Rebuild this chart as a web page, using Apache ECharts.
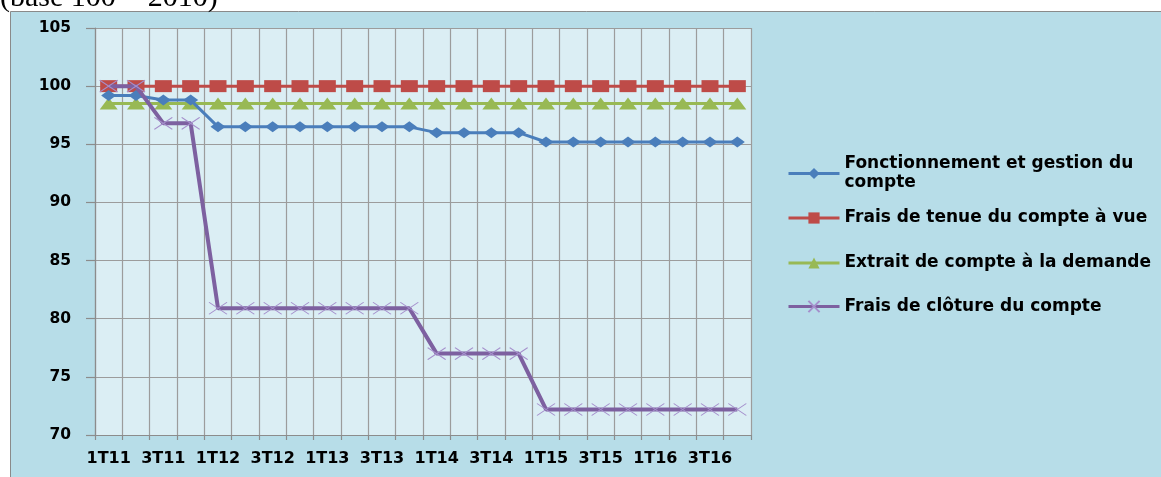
<!DOCTYPE html>
<html><head><meta charset="utf-8">
<script src="https://cdn.jsdelivr.net/npm/echarts@6/dist/echarts.min.js"></script>
<style>html,body{margin:0;padding:0;background:#fff;overflow:hidden}#c{width:1161px;height:477px}</style>
</head><body><div id="c"></div>
<script>
const categories = ['1T11','2T11','3T11','4T11','1T12','2T12','3T12','4T12','1T13','2T13','3T13','4T13','1T14','2T14','3T14','4T14','1T15','2T15','3T15','4T15','1T16','2T16','3T16','4T16'];
const seriesNames = ['Fonctionnement et gestion du compte','Frais de tenue du compte à vue','Extrait de compte à la demande','Frais de clôture du compte'];
const fonctionnement = [99.2,99.2,98.8,98.8,96.5,96.5,96.5,96.5,96.5,96.5,96.5,96.5,96.0,96.0,96.0,96.0,95.2,95.2,95.2,95.2,95.2,95.2,95.2,95.2];
const tenue = [100,100,100,100,100,100,100,100,100,100,100,100,100,100,100,100,100,100,100,100,100,100,100,100];
const extrait = [98.5,98.5,98.5,98.5,98.5,98.5,98.5,98.5,98.5,98.5,98.5,98.5,98.5,98.5,98.5,98.5,98.5,98.5,98.5,98.5,98.5,98.5,98.5,98.5];
const cloture = [100,100,96.8,96.8,80.9,80.9,80.9,80.9,80.9,80.9,80.9,80.9,77.0,77.0,77.0,77.0,72.2,72.2,72.2,72.2,72.2,72.2,72.2,72.2];
const titleText = '(base 100 = 2010)';

const FONT = '"DejaVu Sans", sans-serif';
const legendText = {fontFamily: FONT, fontWeight: 'bold', fontSize: 17, color: '#000', lineHeight: 19};
function legendAt(name, top, extra) {
  return Object.assign({
    data: [name], orient: 'vertical', left: 787, top: top, padding: 0,
    itemWidth: 51, itemHeight: 14, itemGap: 0,
    lineStyle: {width: 3},
    textStyle: Object.assign({}, legendText)
  }, extra || {});
}
const chart = echarts.init(document.getElementById('c'));
chart.setOption({
  animation: false,
  graphic: [
    {type: 'rect', z: -10, shape: {x: 10.5, y: 11.5, width: 1160, height: 470},
     style: {fill: '#b7dde8', stroke: '#8a8a8a', lineWidth: 1}},
    {type: 'text', z: 10, x: 0, y: -17,
     style: {text: titleText, font: '30px "Liberation Serif", serif', fill: '#000', verticalAlign: 'top'}}
  ],
  grid: {left: 95, right: 410, top: 28, bottom: 42, show: true, backgroundColor: '#dbeef4', borderWidth: 0},
  legend: [
    legendAt(seriesNames[0], 145, {formatter: () => 'Fonctionnement et gestion du\ncompte',
      textStyle: Object.assign({}, legendText, {padding: [19, 0, 0, 0]})}),
    legendAt(seriesNames[1], 208.5),
    legendAt(seriesNames[2], 253.5),
    legendAt(seriesNames[3], 297)
  ],
  xAxis: {
    type: 'category', data: categories, boundaryGap: true,
    axisLine: {lineStyle: {color: '#8c8c8c', width: 1.2}},
    axisTick: {show: true, interval: 0, length: 5, lineStyle: {color: '#8c8c8c', width: 1.2}},
    axisLabel: {interval: 1, margin: 16, fontFamily: FONT, fontWeight: 'bold', fontSize: 16, color: '#000'},
    splitLine: {show: true, interval: 0, lineStyle: {color: '#9c9c9c', width: 1.2}}
  },
  yAxis: {
    type: 'value', min: 70, max: 105, interval: 5,
    axisLine: {show: true, lineStyle: {color: '#8c8c8c', width: 1.2}},
    axisTick: {show: true, length: 9, lineStyle: {color: '#8c8c8c', width: 1.2}},
    axisLabel: {margin: 24, fontFamily: FONT, fontWeight: 'bold', fontSize: 15.5, color: '#000'},
    splitLine: {show: true, lineStyle: {color: '#9c9c9c', width: 1.2}}
  },
  series: [
    {name: seriesNames[0], type: 'line', data: fonctionnement, symbol: 'diamond', symbolSize: [15, 11],
     lineStyle: {color: '#4a7ebb', width: 3}, itemStyle: {color: '#4a7ebb'}, z: 3},
    {name: seriesNames[1], type: 'line', data: tenue, symbol: 'rect', symbolSize: [17, 12],
     lineStyle: {color: '#be4b48', width: 3}, itemStyle: {color: '#be4b48'}, z: 2},
    {name: seriesNames[2], type: 'line', data: extrait, symbol: 'triangle', symbolSize: [18, 12],
     lineStyle: {color: '#98b954', width: 3}, itemStyle: {color: '#98b954'}, z: 2},
    {name: seriesNames[3], type: 'line', data: cloture, symbol: 'path://M0,0L18,12M18,0L0,12', symbolSize: [18, 12],
     lineStyle: {color: '#7d60a0', width: 4}, itemStyle: {color: 'rgba(0,0,0,0)', borderColor: '#a58fcc', borderWidth: 1}, z: 4}
  ]
});
</script></body></html>
